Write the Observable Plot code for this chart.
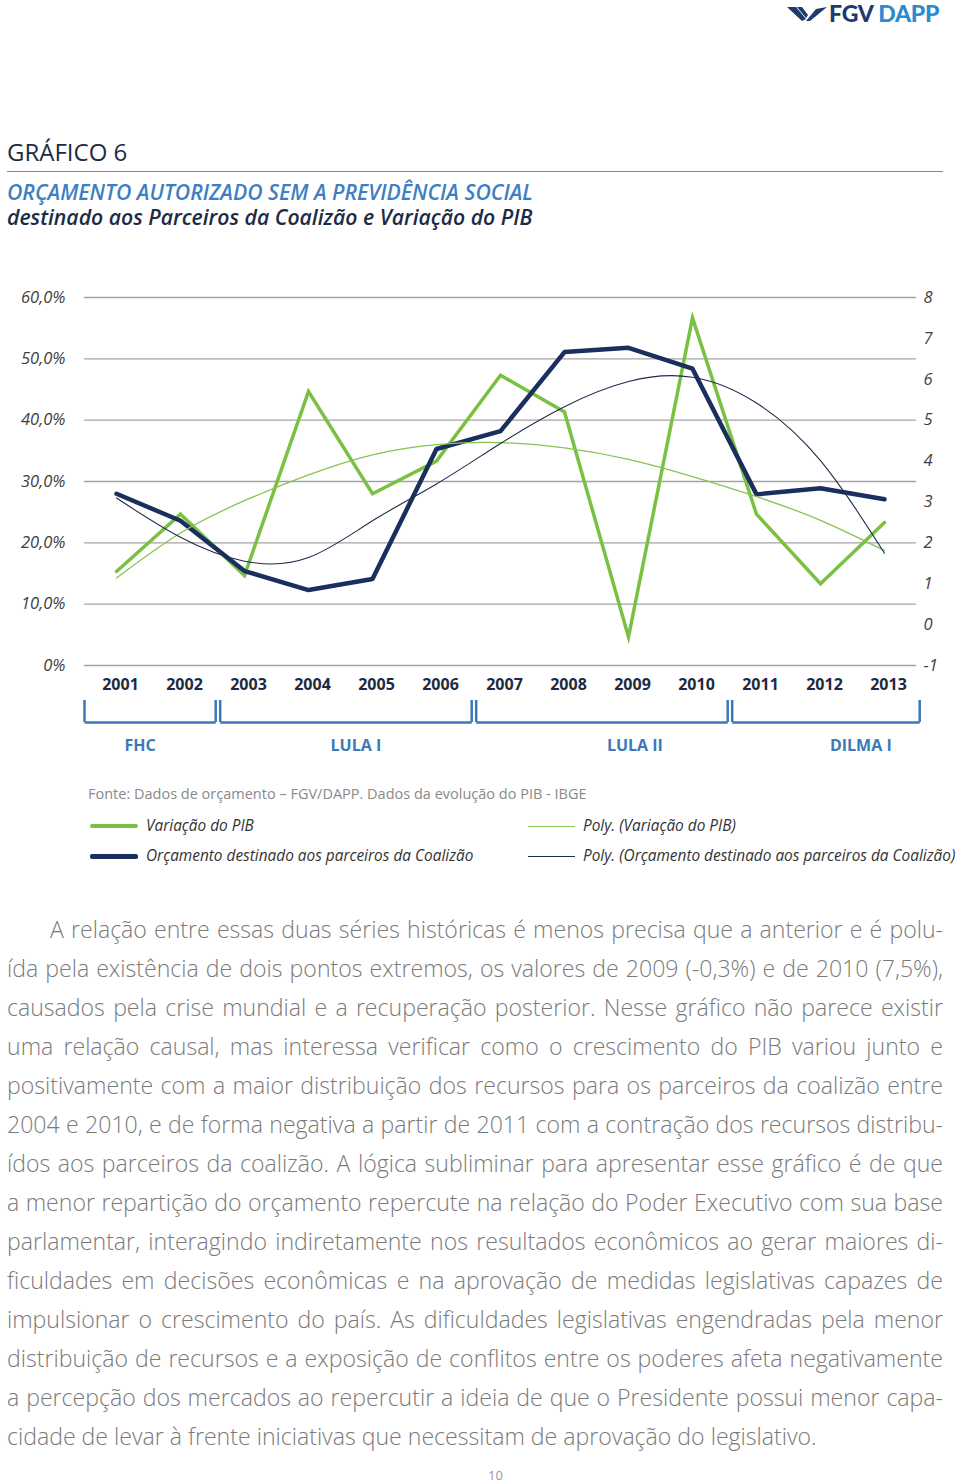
<!DOCTYPE html>
<html>
<head>
<meta charset="utf-8">
<script src="https://cdn.jsdelivr.net/npm/d3@7"></script>
<script src="https://cdn.jsdelivr.net/npm/@observablehq/plot@0.6"></script>
<style>
html, body { margin: 0; padding: 0; background: #fff; }
#page { position: relative; width: 960px; height: 1483px; overflow: hidden; font-family: "Open Sans", sans-serif; background: #fff; }
.abs { position: absolute; white-space: nowrap; }
#logo-text { left: 829px; top: 0px; font-family: "Lato", sans-serif; font-weight: 900; font-size: 23px; line-height: 27px; letter-spacing: -0.2px; }
#title { left: 7px; top: 137px; font-size: 24px; line-height: 30px; color: #1c2b45; font-weight: 500; }
#rule { left: 7px; top: 171px; width: 936px; height: 0; border-top: 1.5px solid #8a8a8a; }
#subtitle { left: 7px; top: 178.5px; font-size: 21.2px; line-height: 25px; font-style: italic; font-weight: 600; color: #1c2b45; }
#subtitle .s1 { color: #3d7fc1; }
#main { left: 0; top: 277px; }
#brackets { left: 0; top: 695px; }
#main svg [aria-label="y-axis tick label"] text { font-style: italic; }
#source { left: 88px; top: 784px; font-size: 14.5px; line-height: 20px; color: #8a8a8a; }
.leg { font-size: 15.4px; line-height: 20px; color: #333; font-style: italic; }
.sw { position: absolute; }
#para { left: 7px; top: 910px; width: 936px; font-size: 23.1px; line-height: 39px; font-weight: 300; color: #7a7a7a; white-space: normal; }
#para div { text-align: justify; text-align-last: justify; white-space: nowrap; }
#para div.last { text-align-last: left; }
#para div.first { padding-left: 43px; }
#pageno { left: 488px; top: 1466px; font-size: 13px; line-height: 18px; color: #9a9a9a; }
</style>
</head>
<body>
<div id="page">
  <svg class="abs" style="left:786px;top:5px" width="42" height="18" viewBox="0 0 42 18">
    <polygon points="1,2 10,2 20,14 16,16" fill="#1e3a6e"/>
    <polygon points="11,2 16,2 22,10 20,13" fill="#1e3a6e"/>
    <polygon points="20,16 30,4 41,2 24,16" fill="#1e3a6e"/>
  </svg>
  <div id="logo-text" class="abs"><span style="color:#1e3a6e">FGV</span> <span style="color:#2b8ad2">DAPP</span></div>

  <div id="title" class="abs">GRÁFICO 6</div>
  <div id="rule" class="abs"></div>
  <div id="subtitle" class="abs"><span class="s1">ORÇAMENTO AUTORIZADO SEM A PREVIDÊNCIA SOCIAL</span><br>destinado aos Parceiros da Coalizão e Variação do PIB</div>

  <div id="main" class="abs"></div>
  <div id="brackets" class="abs"></div>

  <div id="source" class="abs">Fonte: Dados de orçamento – FGV/DAPP. Dados da evolução do PIB - IBGE</div>

  <div class="sw" style="left:90px;top:824px;width:48px;height:4px;background:#7ac143;border-radius:2px"></div>
  <div class="abs leg" style="left:146px;top:816px">Variação do PIB</div>
  <div class="sw" style="left:90px;top:854px;width:48px;height:4.5px;background:#1b2f5e;border-radius:2px"></div>
  <div class="abs leg" style="left:146px;top:846px">Orçamento destinado aos parceiros da Coalizão</div>
  <div class="sw" style="left:528px;top:825.5px;width:47px;height:1.5px;background:#86c453"></div>
  <div class="abs leg" style="left:583px;top:816px">Poly. (Variação do PIB)</div>
  <div class="sw" style="left:528px;top:855.5px;width:47px;height:1.5px;background:#1e2c4c"></div>
  <div class="abs leg" style="left:583px;top:846px">Poly. (Orçamento destinado aos parceiros da Coalizão)</div>

  <div id="para" class="abs">
    <div class="first">A relação entre essas duas séries históricas é menos precisa que a anterior e é polu-</div>
    <div>ída pela existência de dois pontos extremos, os valores de 2009 (-0,3%) e de 2010 (7,5%),</div>
    <div>causados pela crise mundial e a recuperação posterior. Nesse gráfico não parece existir</div>
    <div>uma relação causal, mas interessa verificar como o crescimento do PIB variou junto e</div>
    <div>positivamente com a maior distribuição dos recursos para os parceiros da coalizão entre</div>
    <div>2004 e 2010, e de forma negativa a partir de 2011 com a contração dos recursos distribu-</div>
    <div>ídos aos parceiros da coalizão. A lógica subliminar para apresentar esse gráfico é de que</div>
    <div>a menor repartição do orçamento repercute na relação do Poder Executivo com sua base</div>
    <div>parlamentar, interagindo indiretamente nos resultados econômicos ao gerar maiores di-</div>
    <div>ficuldades em decisões econômicas e na aprovação de medidas legislativas capazes de</div>
    <div>impulsionar o crescimento do país. As dificuldades legislativas engendradas pela menor</div>
    <div>distribuição de recursos e a exposição de conflitos entre os poderes afeta negativamente</div>
    <div>a percepção dos mercados ao repercutir a ideia de que o Presidente possui menor capa-</div>
    <div class="last">cidade de levar à frente iniciativas que necessitam de aprovação do legislativo.</div>
  </div>
  <div id="pageno" class="abs">10</div>
</div>

<script>
// ---- Data ----
const years = [2001, 2002, 2003, 2004, 2005, 2006, 2007, 2008, 2009, 2010, 2011, 2012, 2013];
// Variação do PIB (%), right axis
const pibVariation = [1.3, 2.7, 1.2, 5.7, 3.2, 4.0, 6.1, 5.2, -0.3, 7.5, 2.7, 1.0, 2.5];
// Orçamento destinado aos parceiros da Coalizão (%), left axis
const budgetShare = [28.0, 23.6, 15.4, 12.3, 14.1, 35.3, 38.2, 51.1, 51.8, 48.4, 27.9, 28.9, 27.1];
// Poly. trendlines as drawn in the picture
const pibTrend = [1.14, 2.24, 3.03, 3.66, 4.15, 4.40, 4.45, 4.32, 4.04, 3.62, 3.13, 2.55, 1.81];
const budgetTrend = [27.3, 20.9, 17.0, 17.6, 23.6, 29.6, 36.2, 42.2, 46.3, 47.0, 42.8, 33.4, 18.3];
// Axis ticks
const leftTicks = [0, 10, 20, 30, 40, 50, 60];
const rightTicks = [-1, 0, 1, 2, 3, 4, 5, 6, 7, 8];
// Government periods
const periodLabels = ["FHC", "LULA I", "LULA II", "DILMA I"];
const periodStart = [2001, 2003, 2007, 2011];
const periodEnd = [2002, 2006, 2010, 2013];

// ---- Build ----
const green = "#7ac143", navy = "#1b2f5e", greenThin = "#86c453", navyThin = "#1e2c4c", blue = "#3c79b8";
const rightMin = -1, rightMax = 8, leftMax = 60;
const toLeft = v => (v - rightMin) * leftMax / (rightMax - rightMin);
const fromLeft = d => Math.round(d * (rightMax - rightMin) / leftMax + rightMin);

const pibRows = years.map((year, i) => ({year, value: toLeft(pibVariation[i]), trend: toLeft(pibTrend[i])}));
const budRows = years.map((year, i) => ({year, value: budgetShare[i], trend: budgetTrend[i]}));
const xDomain = [2000.5, 2013.5];

const main = Plot.plot({
  width: 960, height: 418,
  marginTop: 20, marginBottom: 30, marginLeft: 84, marginRight: 44,
  style: {fontFamily: "Open Sans, sans-serif", fontSize: "16.5px", color: "#3f3f3f", background: "transparent"},
  x: {domain: xDomain},
  y: {domain: [0, leftMax]},
  marks: [
    Plot.ruleY(leftTicks, {stroke: "#a3a3a3", strokeWidth: 1.4}),
    Plot.axisY(leftTicks, {anchor: "left", tickSize: 0, tickPadding: 19, label: null, fontStyle: "italic", fontSize: 16.5,
      tickFormat: d => d === 0 ? "0%" : d.toFixed(1).replace(".", ",") + "%"}),
    Plot.axisY(rightTicks.map(toLeft), {anchor: "right", tickSize: 0, tickPadding: 7, label: null, fontStyle: "italic", fontSize: 16.5,
      tickFormat: d => String(fromLeft(d))}),
    Plot.axisX(years, {tickSize: 0, tickPadding: 13, label: null, dx: 4, fontWeight: "bold", fontSize: 16, fill: "#1c2b45",
      tickFormat: d => String(d)}),
    Plot.line(pibRows, {x: "year", y: "value", stroke: green, strokeWidth: 3.5, strokeLinejoin: "miter", strokeMiterlimit: 10}),
    Plot.line(budRows, {x: "year", y: "value", stroke: navy, strokeWidth: 4.5}),
    Plot.line(pibRows, {x: "year", y: "trend", stroke: greenThin, strokeWidth: 1.3, curve: "natural"}),
    Plot.line(budRows, {x: "year", y: "trend", stroke: navyThin, strokeWidth: 1.1, curve: "natural"})
  ]
});
document.getElementById("main").appendChild(main);

// Period brackets below the year axis
const labelShift = [-0.13, 0.24, 0.6, 0.63]; // label placement tweaks (layout)
const periodRows = periodLabels.map((label, i) => ({
  label,
  x1: i === 0 ? periodStart[i] - 0.5 : periodStart[i] - 0.38,
  x2: periodEnd[i] + 0.55,
  mid: (periodStart[i] + periodEnd[i]) / 2 + labelShift[i]
}));
const edges = periodRows.flatMap(d => [d.x1, d.x2]);

const brackets = Plot.plot({
  width: 960, height: 70,
  marginTop: 5, marginBottom: 43, marginLeft: 84, marginRight: 44,
  style: {fontFamily: "Open Sans, sans-serif", background: "transparent"},
  x: {domain: xDomain, axis: null},
  y: {domain: [0, 1], axis: null},
  marks: [
    Plot.ruleX(edges, {x: d => d, y1: 0, y2: 1, stroke: blue, strokeWidth: 2.5}),
    Plot.link(periodRows, {x1: "x1", x2: "x2", y1: 0, y2: 0, stroke: blue, strokeWidth: 2.5}),
    Plot.text(periodRows, {x: "mid", y: 0, dy: 23, text: "label", fill: blue, fontWeight: "bold", fontSize: 16})
  ]
});
document.getElementById("brackets").appendChild(brackets);
</script>
</body>
</html>
